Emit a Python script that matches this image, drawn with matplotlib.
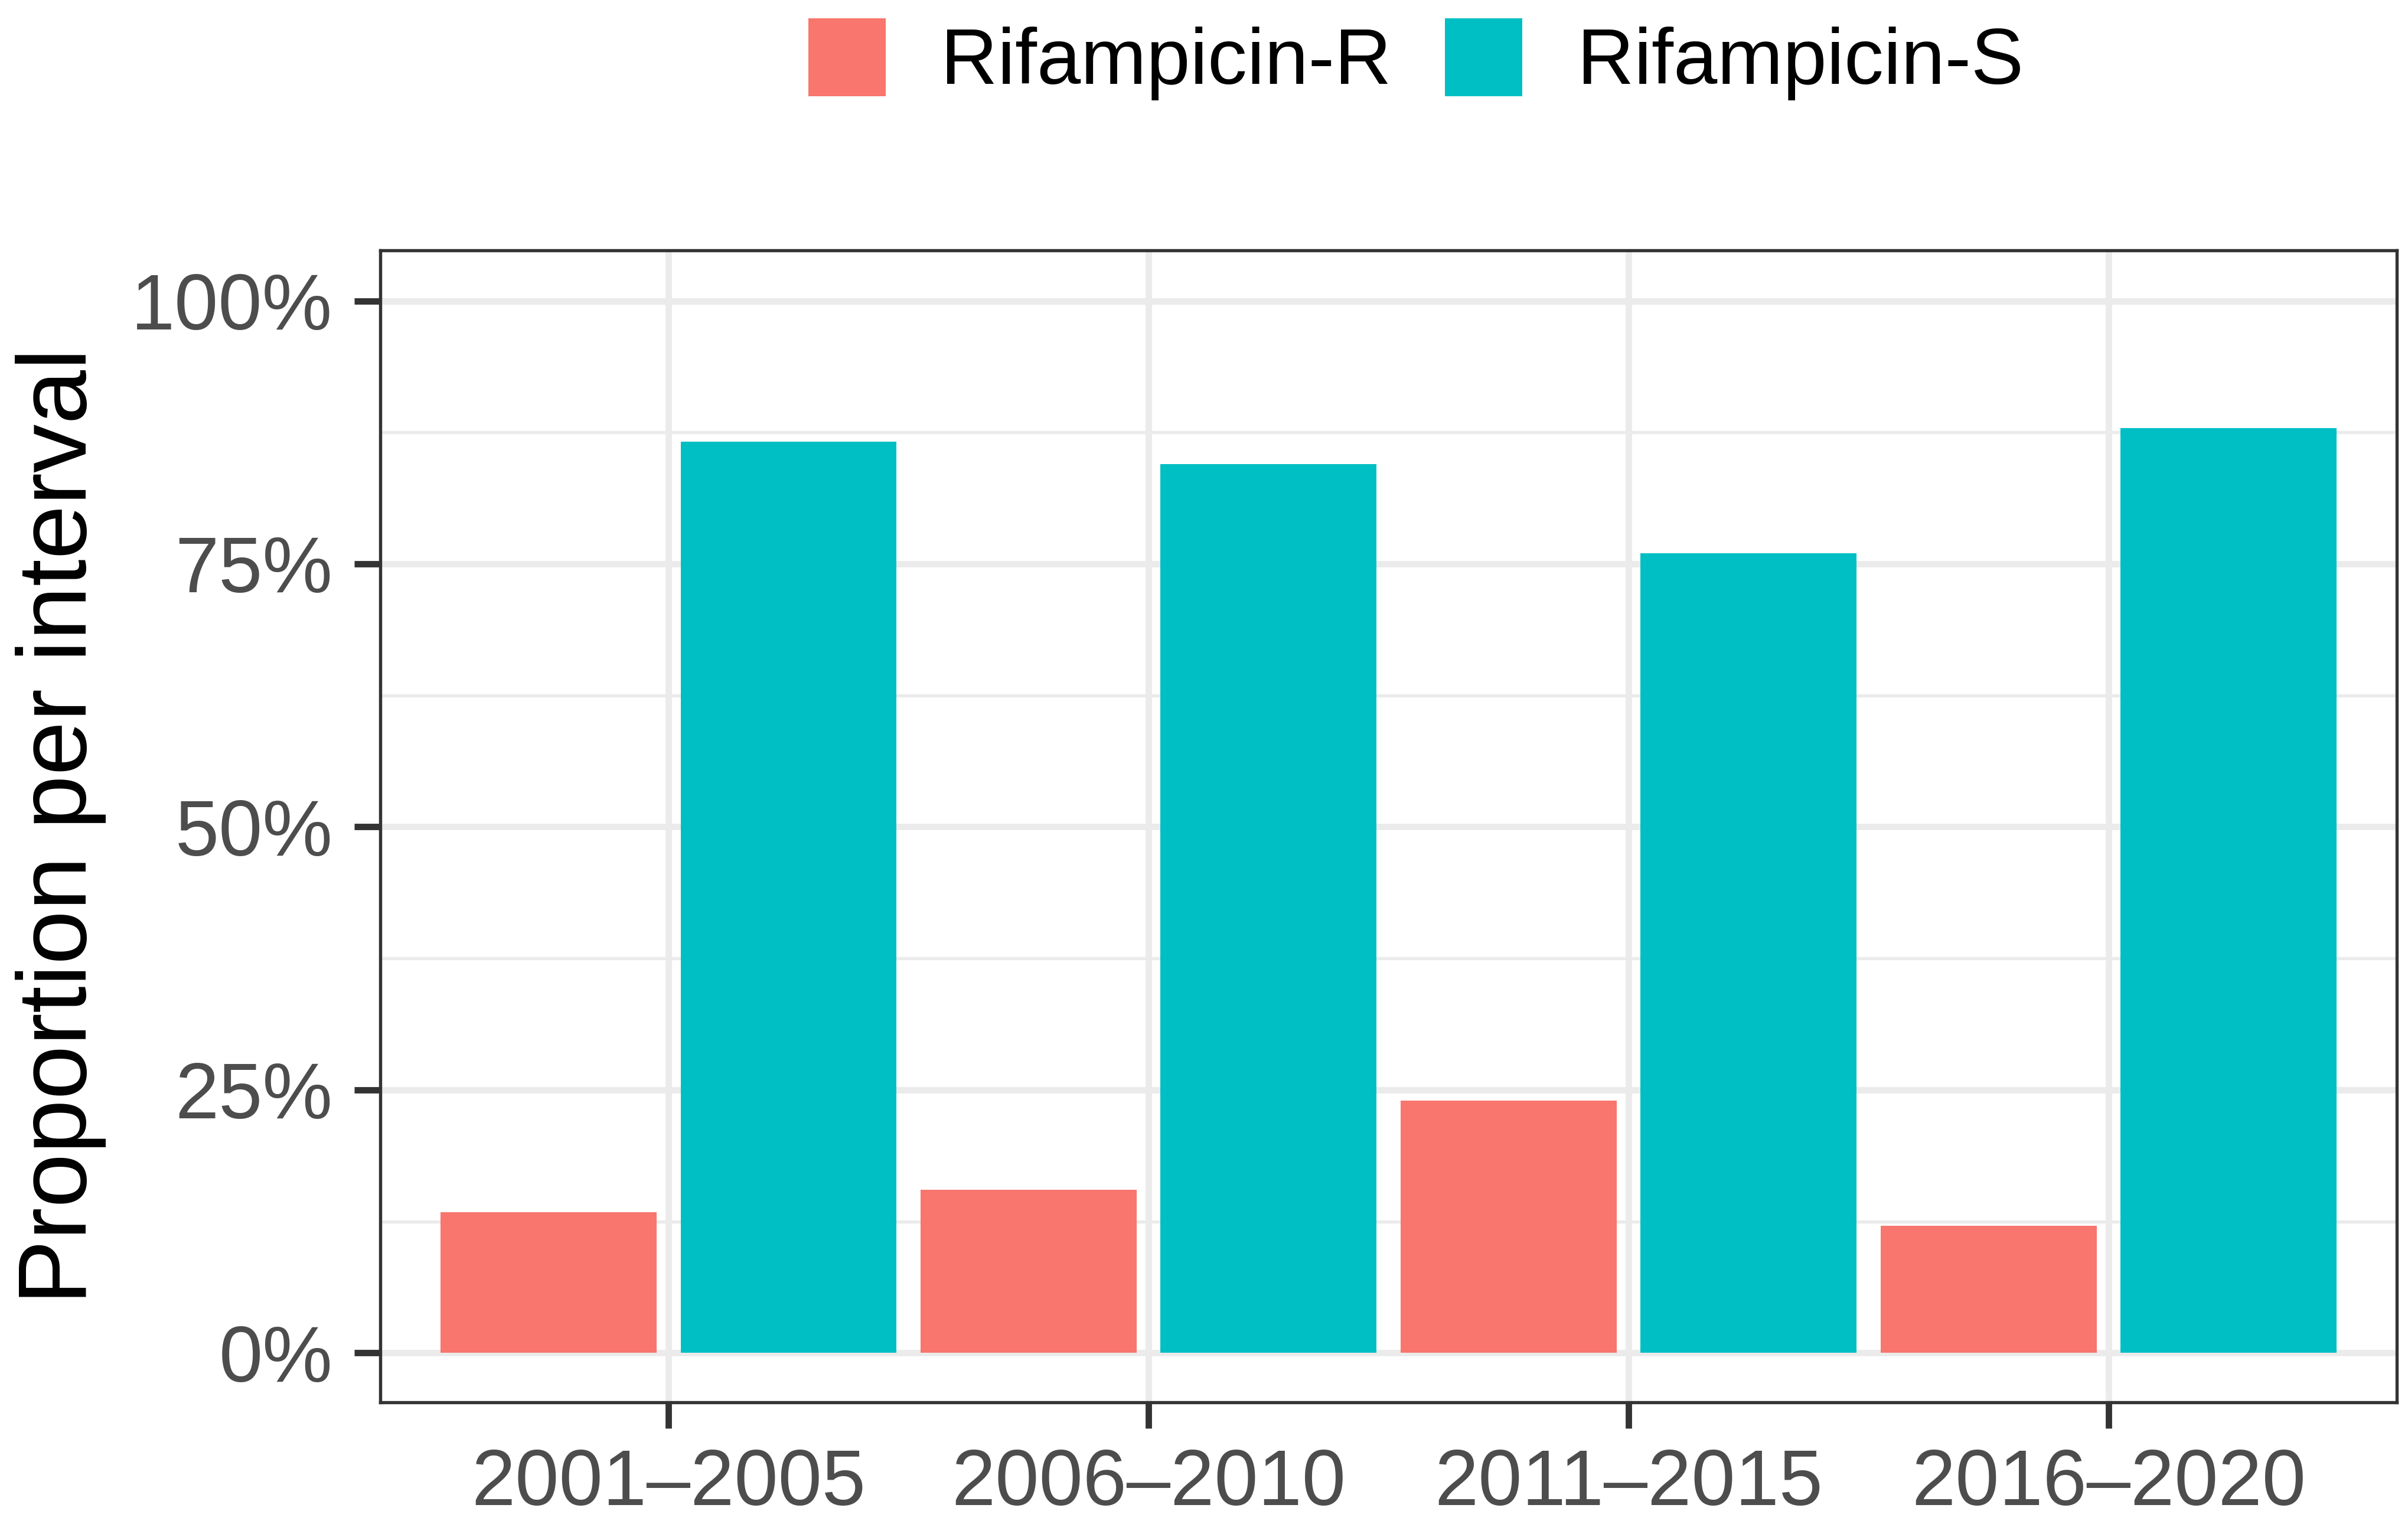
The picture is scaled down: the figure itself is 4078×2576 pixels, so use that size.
import matplotlib
matplotlib.use("Agg")
import matplotlib.pyplot as plt
import numpy as np
from matplotlib.ticker import FuncFormatter, MultipleLocator

plt.rcParams['font.family'] = ['Liberation Sans', 'DejaVu Sans']

intervals = ["2001–2005", "2006–2010", "2011–2015", "2016–2020"]
resistant = [13.4, 15.5, 24.0, 12.1]
susceptible = [86.6, 84.5, 76.0, 87.9]
labels = ["Rifampicin-R", "Rifampicin-S"]
colors = ["#F8766D", "#00BFC4"]

fig = plt.figure(figsize=(4079 / 300, 2576 / 300), dpi=300)
ax = fig.add_axes([0.158, 0.078, 0.837, 0.7574])

x = np.arange(len(intervals))
b1 = ax.bar(x - 0.25, resistant, width=0.45, color=colors[0], label=labels[0], zorder=3)
b2 = ax.bar(x + 0.25, susceptible, width=0.45, color=colors[1], label=labels[1], zorder=3)

ax.set_xlim(-0.6, 3.6)
ax.set_ylim(-4.7, 104.8)
ax.set_xticks(x)
ax.set_xticklabels(intervals)
ax.yaxis.set_major_locator(MultipleLocator(25))
ax.yaxis.set_minor_locator(MultipleLocator(12.5))
ax.yaxis.set_major_formatter(FuncFormatter(lambda v, p: f"{v:.0f}%"))

# theme_bw style grid
ax.grid(which='major', color='#EBEBEB', linewidth=2.6, zorder=0)
ax.grid(which='minor', axis='y', color='#EBEBEB', linewidth=1.3, zorder=0)
ax.set_axisbelow(True)
ax.tick_params(which='minor', length=0)
ax.tick_params(which='major', length=10.5, width=2.6, color='#333333',
               labelsize=32, labelcolor='#4D4D4D')
ax.tick_params(axis='y', pad=9)
ax.tick_params(axis='x', pad=8)
for s in ax.spines.values():
    s.set_color('#333333')
    s.set_linewidth(1.3)
    s.set_zorder(4)

ax.set_ylabel("Proportion per interval", fontsize=39.5, color='black')
ax.yaxis.set_label_coords(-0.136, 0.5)

fig.legend(handles=[b1, b2], labels=labels, loc='center', bbox_to_anchor=(0.588, 0.961),
           ncol=2, frameon=False, fontsize=32, handlelength=0.98, handleheight=1.15,
           handletextpad=0.7, columnspacing=0.68)

fig.savefig("out.png", dpi=300)
